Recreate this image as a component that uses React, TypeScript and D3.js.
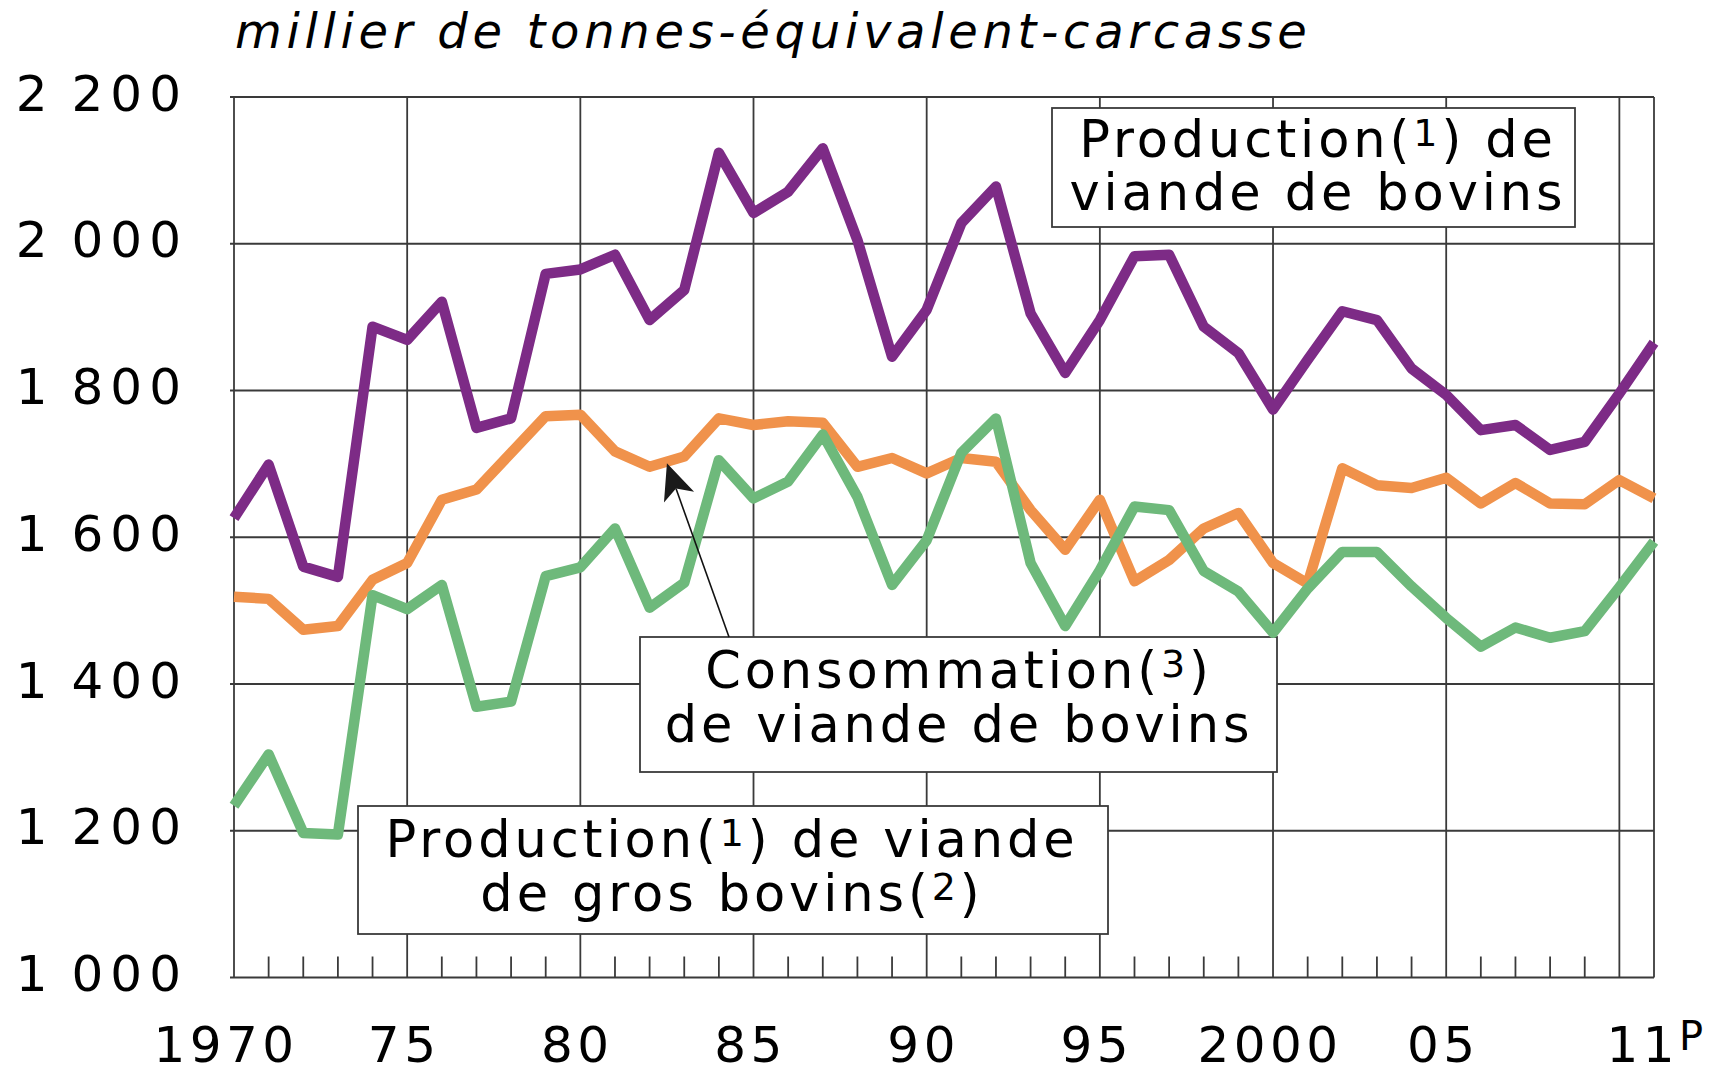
import React, { useEffect, useRef } from "react";
import * as d3 from "d3";

// années 1970 à 2011 (2011 provisoire)
const years = [
  1970, 1971, 1972, 1973, 1974, 1975, 1976, 1977, 1978, 1979,
  1980, 1981, 1982, 1983, 1984, 1985, 1986, 1987, 1988, 1989,
  1990, 1991, 1992, 1993, 1994, 1995, 1996, 1997, 1998, 1999,
  2000, 2001, 2002, 2003, 2004, 2005, 2006, 2007, 2008, 2009,
  2010, 2011,
];

// millier de tonnes-équivalent-carcasse
const productionBovins = [
  1626, 1699, 1560, 1546, 1887, 1869, 1921, 1749, 1762, 1959,
  1965, 1985, 1896, 1937, 2124, 2042, 2071, 2130, 2005, 1846,
  1910, 2028, 2078, 1905, 1824, 1896, 1983, 1985, 1887, 1851,
  1774, 1842, 1908, 1896, 1830, 1794, 1746, 1753, 1719, 1730,
  1796, 1865,
];

const consommationBovins = [
  1519, 1516, 1474, 1479, 1542, 1565, 1651, 1665, 1715, 1765,
  1767, 1717, 1696, 1710, 1762, 1753, 1758, 1756, 1696, 1708,
  1687, 1708, 1703, 1637, 1583, 1651, 1540, 1569, 1612, 1633,
  1565, 1537, 1694, 1671, 1667, 1681, 1646, 1674, 1646, 1645,
  1678, 1653,
];

const productionGrosBovins = [
  1234, 1304, 1197, 1195, 1521, 1502, 1535, 1369, 1376, 1547,
  1559, 1612, 1504, 1538, 1705, 1653, 1676, 1740, 1655, 1535,
  1596, 1715, 1762, 1565, 1479, 1555, 1642, 1637, 1554, 1526,
  1470, 1530, 1580, 1580, 1533, 1490, 1451, 1477, 1463, 1472,
  1532, 1594,
];

const yTickValues = [1000, 1200, 1400, 1600, 1800, 2000, 2200];
const yTickLabels = ["1\u2009000", "1\u2009200", "1\u2009400", "1\u2009600", "1\u2009800", "2\u2009000", "2\u2009200"];

const gridYears = [1975, 1980, 1985, 1990, 1995, 2000, 2005, 2010];
const xLabelYears = [1970, 1975, 1980, 1985, 1990, 1995, 2000, 2005, 2011];
const xLabels = ["1970", "75", "80", "85", "90", "95", "2000", "05", "11"];

const W = 1717;
const H = 1068;
const FONT = "'DejaVu Sans', 'Noto Sans', sans-serif";
const GRID = "#3a3a3a";

type Seg = { t: string; sup?: boolean };

export default function App() {
  const ref = useRef<SVGSVGElement>(null);

  useEffect(() => {
    const svg = d3.select(ref.current);
    svg.selectAll("*").remove();

    const x = d3.scaleLinear().domain([1970, 2011]).range([234, 1654]);
    const y = d3.scaleLinear().domain([1000, 2200]).range([977.5, 97]);

    const grid = svg.append("g").attr("stroke", GRID).attr("stroke-width", 1.8);

    // lignes horizontales + petits débords à gauche
    grid.selectAll("line.h").data(yTickValues).enter().append("line")
      .attr("x1", x(1970) - 4).attr("x2", x(2011))
      .attr("y1", d => y(d)).attr("y2", d => y(d));

    // verticales tous les 5 ans + bords
    grid.selectAll("line.v").data([1970, ...gridYears, 2011]).enter().append("line")
      .attr("x1", d => x(d)).attr("x2", d => x(d))
      .attr("y1", y(2200)).attr("y2", y(1000));

    // graduations annuelles
    const minor = years.filter(d => d % 5 !== 0 && d !== 2011);
    grid.selectAll("line.m").data(minor).enter().append("line")
      .attr("x1", d => x(d)).attr("x2", d => x(d))
      .attr("y1", y(1000) - 21).attr("y2", y(1000));

    // axes : libellés
    svg.append("g").selectAll("text").data(yTickValues).enter().append("text")
      .attr("x", 188)
      .attr("y", d => y(d) + 13.5)
      .attr("text-anchor", "end")
      .attr("font-family", FONT)
      .attr("font-size", 50)
      .attr("letter-spacing", 7)
      .attr("fill", "#000")
      .text((d, i) => yTickLabels[i]);

    const last = xLabelYears.length - 1;
    const xl = svg.append("g").selectAll("text").data(xLabelYears).enter().append("text")
      .attr("x", (d, i) => x(d) + (i === last ? 3 : i === 0 ? -8 : -3))
      .attr("y", 1061.5)
      .attr("text-anchor", "middle")
      .attr("font-family", FONT)
      .attr("font-size", 50)
      .attr("letter-spacing", 4.5)
      .attr("fill", "#000");
    xl.append("tspan").text((d, i) => xLabels[i]);
    xl.filter(d => d === 2011).append("tspan")
      .attr("font-size", 40).attr("dy", -11.5).text("P");

    // unité
    svg.append("text")
      .attr("x", 235).attr("y", 48)
      .attr("font-family", FONT)
      .attr("font-style", "italic")
      .attr("font-size", 48)
      .attr("letter-spacing", 4.7)
      .attr("fill", "#000")
      .text("millier de tonnes-équivalent-carcasse");

    // encadrés
    const boxes: { x: number; y: number; w: number; h: number; cx: number; base: number[]; lines: Seg[][] }[] = [
      {
        x: 1052, y: 108, w: 523, h: 119, cx: 1316, base: [157, 210],
        lines: [
          [{ t: "Production(" }, { t: "1", sup: true }, { t: ") de" }],
          [{ t: "viande de bovins" }],
        ],
      },
      {
        x: 640, y: 637, w: 637, h: 135, cx: 957, base: [688, 742],
        lines: [
          [{ t: "Consommation(" }, { t: "3", sup: true }, { t: ")" }],
          [{ t: "de viande de bovins" }],
        ],
      },
      {
        x: 358, y: 806, w: 750, h: 128, cx: 730, base: [857, 911],
        lines: [
          [{ t: "Production(" }, { t: "1", sup: true }, { t: ") de viande" }],
          [{ t: "de gros bovins(" }, { t: "2", sup: true }, { t: ")" }],
        ],
      },
    ];

    const bg = svg.append("g");
    boxes.forEach(b => {
      bg.append("rect")
        .attr("x", b.x).attr("y", b.y).attr("width", b.w).attr("height", b.h)
        .attr("fill", "#fff").attr("stroke", GRID).attr("stroke-width", 1.8);
      b.lines.forEach((segs, li) => {
        const t = bg.append("text")
          .attr("x", b.cx + 2).attr("y", b.base[li])
          .attr("text-anchor", "middle")
          .attr("font-family", FONT)
          .attr("font-size", 51)
          .attr("letter-spacing", 3.9)
          .attr("fill", "#000");
        let raised = false;
        segs.forEach(s => {
          const ts = t.append("tspan").text(s.t);
          if (s.sup) {
            ts.attr("font-size", 38).attr("dy", -11);
            raised = true;
          } else if (raised) {
            ts.attr("dy", 11);
            raised = false;
          }
        });
      });
    });

    // courbes
    const series = [
      { values: consommationBovins, color: "#f0924b" },
      { values: productionGrosBovins, color: "#6eb97b" },
      { values: productionBovins, color: "#7d2b86" },
    ];
    const line = d3.line<number>()
      .x((d, i) => x(years[i]))
      .y(d => y(d));

    svg.append("g").selectAll("path").data(series).enter().append("path")
      .attr("d", d => line(d.values))
      .attr("fill", "none")
      .attr("stroke", d => d.color)
      .attr("stroke-width", 10.5)
      .attr("stroke-linejoin", "round");

    // flèche vers la consommation
    const tip: [number, number] = [x(1982.5), y(1701)];
    const tail: [number, number] = [729, 637];
    const dx = tip[0] - tail[0];
    const dy = tip[1] - tail[1];
    const len = Math.hypot(dx, dy);
    const ux = dx / len, uy = dy / len;
    const px = -uy, py = ux;
    const hl = 36, hw = 16, notch = 27;
    const base = [tip[0] - ux * hl, tip[1] - uy * hl];
    const nb = [tip[0] - ux * notch, tip[1] - uy * notch];
    svg.append("line")
      .attr("x1", tail[0]).attr("y1", tail[1])
      .attr("x2", nb[0]).attr("y2", nb[1])
      .attr("stroke", "#111").attr("stroke-width", 1.6);
    svg.append("path")
      .attr("d", `M${tip[0]},${tip[1]}L${base[0] + px * hw},${base[1] + py * hw}L${nb[0]},${nb[1]}L${base[0] - px * hw},${base[1] - py * hw}Z`)
      .attr("fill", "#1a1a1a");
  }, []);

  return (
    <svg
      ref={ref}
      width={W}
      height={H}
      style={{ position: "absolute", left: 0, top: 0, background: "#fff", display: "block" }}
    />
  );
}
